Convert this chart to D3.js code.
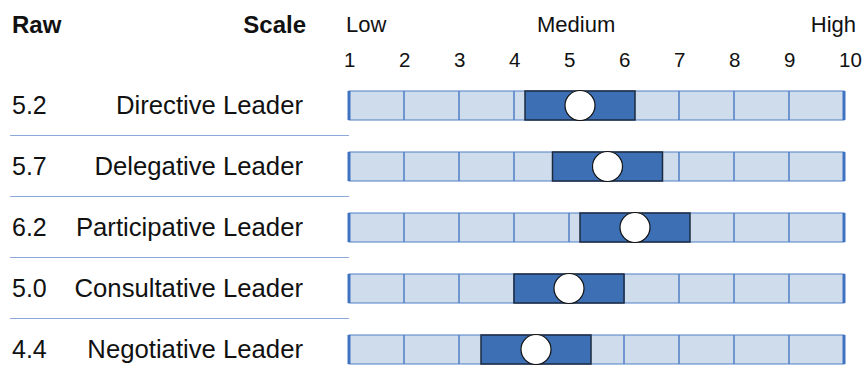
<!DOCTYPE html>
<html>
<head>
<meta charset="utf-8">
<script src="https://cdn.jsdelivr.net/npm/d3@7"></script>
<style>
  html, body { margin: 0; padding: 0; background: #fff; }
  svg { display: block; font-family: "Liberation Sans", Arial, sans-serif; }
</style>
</head>
<body>
<svg id="chart" width="868" height="371"></svg>
<script>
// Leadership style profile: raw score per style on a 1–10 scale
const leaders = ["Directive Leader", "Delegative Leader", "Participative Leader", "Consultative Leader", "Negotiative Leader"];
const rawScores = [5.2, 5.7, 6.2, 5.0, 4.4];
const scaleTicks = [1, 2, 3, 4, 5, 6, 7, 8, 9, 10];
const levelNames = ["Low", "Medium", "High"];
const levelPositions = [1, 5.13, 10];
const bandHalfWidth = 1; // highlighted range = score ± 1

const rows = leaders.map((name, i) => ({ name, raw: rawScores[i] }));

const svg = d3.select("#chart");

const x = d3.scaleLinear().domain([1, 10]).range([349, 844]);
const y = d3.scaleBand().domain(leaders).range([75, 380]);
const barH = 29;

const lightFill = "#cfdcec";
const gridBlue = "#4f7fc6";
const darkFill = "#3d6fb5";

// Column headers
svg.append("text").attr("x", 12).attr("y", 33)
  .attr("font-size", 24).attr("font-weight", "bold").attr("fill", "#111")
  .text("Raw");
svg.append("text").attr("x", 306).attr("y", 33).attr("text-anchor", "end")
  .attr("font-size", 24).attr("font-weight", "bold").attr("fill", "#111")
  .text("Scale");

// Low / Medium / High
const anchors = ["start", "middle", "end"];
const levelDx = [-3, 0, 12];
svg.selectAll("text.level").data(levelNames).join("text")
  .attr("class", "level")
  .attr("x", (d, i) => x(levelPositions[i]) + levelDx[i])
  .attr("y", 32)
  .attr("text-anchor", (d, i) => anchors[i])
  .attr("font-size", 22).attr("fill", "#111")
  .text(d => d);

// Scale numbers
svg.selectAll("text.tick").data(scaleTicks).join("text")
  .attr("class", "tick")
  .attr("x", d => x(d) - 5)
  .attr("y", 67)
  .attr("font-size", 20.5).attr("fill", "#111")
  .text(d => d);

// Separators between rows
svg.selectAll("line.sep").data(leaders.slice(1)).join("line")
  .attr("class", "sep")
  .attr("x1", 10).attr("x2", x(1))
  .attr("y1", d => y(d) - 0.5).attr("y2", d => y(d) - 0.5)
  .attr("stroke", "#8eaadb").attr("stroke-width", 1.2);

const row = svg.selectAll("g.row").data(rows).join("g")
  .attr("class", "row")
  .attr("transform", d => `translate(0,${y(d.name) + y.bandwidth() / 2})`);

// Row labels
row.append("text").attr("x", 12).attr("y", 8.5)
  .attr("font-size", 25).attr("fill", "#111")
  .text(d => d.raw.toFixed(1));
row.append("text").attr("x", 303).attr("y", 8.5).attr("text-anchor", "end")
  .attr("font-size", 25.7).attr("fill", "#111")
  .text(d => d.name);

// Background bar
row.append("rect")
  .attr("x", x(1)).attr("y", -barH / 2)
  .attr("width", x(10) - x(1)).attr("height", barH)
  .attr("fill", lightFill).attr("stroke", gridBlue).attr("stroke-width", 1);

// Unit grid lines
row.selectAll("line.grid").data(scaleTicks.slice(1, -1)).join("line")
  .attr("class", "grid")
  .attr("x1", d => x(d)).attr("x2", d => x(d))
  .attr("y1", -barH / 2).attr("y2", barH / 2)
  .attr("stroke", gridBlue).attr("stroke-width", 1.5);

// Thick end caps
row.selectAll("line.cap").data([1, 10]).join("line")
  .attr("class", "cap")
  .attr("x1", d => x(d)).attr("x2", d => x(d))
  .attr("y1", -barH / 2).attr("y2", barH / 2)
  .attr("stroke", "#3f72c0").attr("stroke-width", 3);

// Score range
row.append("rect")
  .attr("x", d => x(d.raw - bandHalfWidth))
  .attr("y", -barH / 2)
  .attr("width", d => x(d.raw + bandHalfWidth) - x(d.raw - bandHalfWidth))
  .attr("height", barH)
  .attr("fill", darkFill).attr("stroke", "#1c2a40").attr("stroke-width", 1.5);

// Score marker
row.append("circle")
  .attr("cx", d => x(d.raw)).attr("cy", 0).attr("r", 15)
  .attr("fill", "#fff").attr("stroke", "#111").attr("stroke-width", 1.2);
</script>
</body>
</html>
